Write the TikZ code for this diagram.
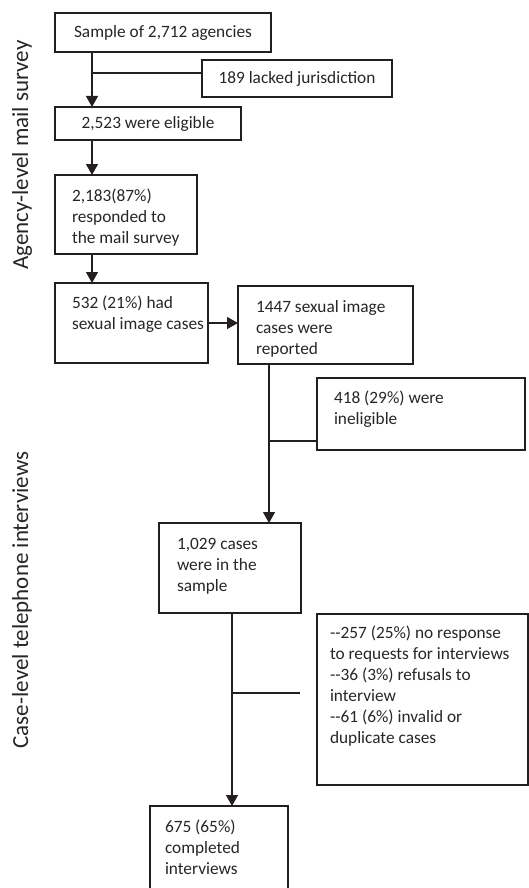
\documentclass[tikz,border=0pt]{standalone}
\usepackage{fontspec}
\setmainfont{Carlito}
\usetikzlibrary{arrows.meta}
\definecolor{lc}{HTML}{231F20}
\definecolor{tc}{HTML}{262626}
\newcommand\myboxfont{\fontsize{17.3}{21}\selectfont}
\newcommand\mysidefont{\fontsize{23}{28}\selectfont}
\begin{document}
\begin{tikzpicture}[x=1pt,y=-1pt,
  box/.style={draw=lc, line width=1.3pt, anchor=north west, inner sep=0pt, outer sep=0pt,
    font=\myboxfont, text=tc},
  txt/.style={anchor=north west, inner sep=0pt, outer sep=0pt, align=left, font=\myboxfont, text=tc},
  side/.style={rotate=90, font=\mysidefont, text=tc, inner sep=0pt},
  ln/.style={draw=lc, line width=1.3pt},
  arr/.style={ln, -{Triangle[width=12pt,length=11pt]}}]
\useasboundingbox (0,0) rectangle (529,888);
\clip (0,0) rectangle (529,888);
% side labels
\node[side] (l1) at (22,155) {Agency-level mail survey};
\node[side] (l2) at (22,600) {Case-level telephone interviews};
% boxes
\node[box, minimum width=216pt, minimum height=39pt] (b1) at (55,13) {Sample of 2,712 agencies};
\node[box, minimum width=190pt, minimum height=37pt] (b2) at (202,60) {189 lacked jurisdiction};
\node[box, minimum width=186pt, minimum height=33pt] (b3) at (55,107) {2,523 were eligible};
\node[box, minimum width=142pt, minimum height=79pt] (b4) at (55,175) {};
\node[txt] (t4) at ([shift={(17,11.5)}]b4.north west) {\strut 2,183(87\%)\\responded to\\the mail survey};
\node[box, minimum width=153pt, minimum height=80pt] (b5) at (55,283) {};
\node[txt] (t5) at ([shift={(17,10.5)}]b5.north west) {\strut 532 (21\%) had\\sexual image cases};
\node[box, minimum width=175pt, minimum height=78pt] (b6) at (238,286) {};
\node[txt] (t6) at ([shift={(18,11.5)}]b6.north west) {\strut 1447 sexual image\\cases were\\reported};
\node[box, minimum width=208pt, minimum height=72pt] (b7) at (317,378) {};
\node[txt] (t7) at ([shift={(17,10.5)}]b7.north west) {\strut 418 (29\%) were\\ineligible};
\node[box, minimum width=142pt, minimum height=90pt] (b8) at (159,523) {};
\node[txt] (t8) at ([shift={(18,12)}]b8.north west) {\strut 1,029 cases\\were in the\\sample};
\node[box, minimum width=211pt, minimum height=171pt] (b9) at (317,614) {};
\node[txt] (t9) at ([shift={(13,10)}]b9.north west) {\strut -{}-257 (25\%) no response\\to requests for interviews\\-{}-36 (3\%) refusals to\\interview\\-{}-61 (6\%) invalid or\\duplicate cases};
\node[box, minimum width=138pt, minimum height=100pt] (b10) at (150,806) {};
\node[txt] (t10) at ([shift={(15,12)}]b10.north west) {\strut 675 (65\%)\\completed\\interviews};
% junction points
\coordinate (j0) at (92,73);
\coordinate (j1) at (269,441);
\coordinate (j2) at (232,693);
\coordinate (j2e) at (300,693);
% connectors
\draw[arr] ([xshift=37pt]b1.south west) -- ([xshift=37pt]b3.north west);
\draw[ln] (j0) -- (j0 -| b2.west);
\draw[arr] ([xshift=37pt]b3.south west) -- ([xshift=37pt]b4.north west);
\draw[arr] ([xshift=37pt]b4.south west) -- ([xshift=37pt]b5.north west);
\draw[arr] (b5.east) -- (b5.east -| b6.west);
\draw[arr] ([xshift=31pt]b6.south west) -- ([xshift=31pt]b6.south west |- b8.north);
\draw[ln] (j1) -- (j1 -| b7.west);
\draw[arr] ([xshift=73pt]b8.south west) -- ([xshift=73pt]b8.south west |- b10.north);
\draw[ln] (j2) -- (j2e);
\end{tikzpicture}
\end{document}
